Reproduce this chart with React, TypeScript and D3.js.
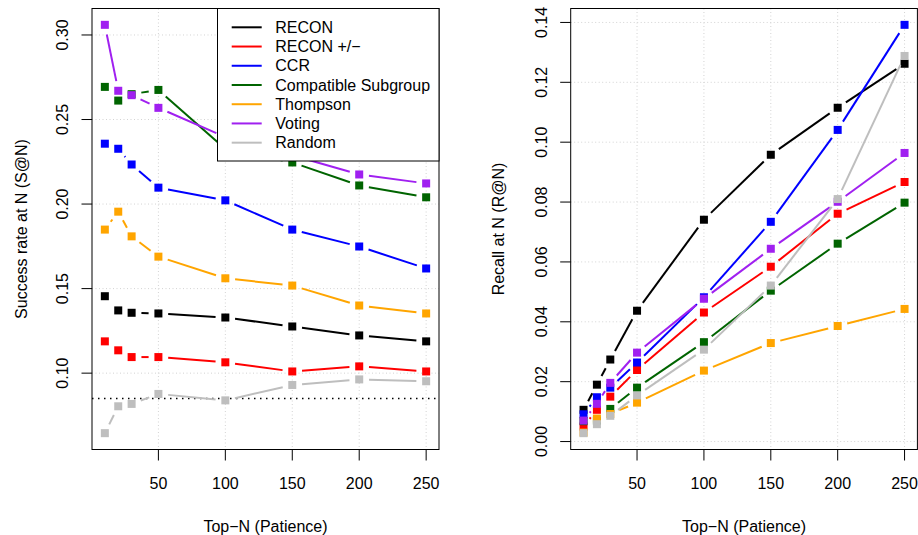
import React, { useEffect, useRef } from 'react';
import * as d3 from 'd3';

const topN = [10, 20, 30, 50, 100, 150, 200, 250];
const methods = ['RECON', 'RECON +/\u2212', 'CCR', 'Compatible Subgroup', 'Thompson', 'Voting', 'Random'];
const colors = ['#000000', '#FF0000', '#0000FF', '#006400', '#FFA500', '#A020F0', '#BEBEBE'];

// success rate at N (left panel)
const successRecon = [0.1455, 0.1371, 0.1357, 0.1353, 0.1329, 0.1276, 0.1223, 0.1188];
const successReconPM = [0.1188, 0.1135, 0.1095, 0.1095, 0.1064, 0.101, 0.104, 0.101];
const successCCR = [0.2357, 0.2327, 0.2234, 0.2097, 0.2022, 0.1849, 0.1749, 0.1619];
const successCompat = [0.2693, 0.2612, 0.265, 0.2675, 0.2325, 0.2246, 0.211, 0.204];
const successThompson = [0.1849, 0.1955, 0.1809, 0.1689, 0.1561, 0.1518, 0.14, 0.1353];
const successVoting = [0.306, 0.267, 0.2644, 0.2569, 0.2396, 0.2288, 0.2175, 0.2122];
const successRandom = [0.0645, 0.0804, 0.0818, 0.0877, 0.0839, 0.093, 0.0963, 0.0952];
const successBaseline = 0.085;

// recall at N (right panel)
const recallRecon = [0.0106, 0.019, 0.0274, 0.0437, 0.0741, 0.0958, 0.1115, 0.1262];
const recallReconPM = [0.005, 0.0106, 0.015, 0.0239, 0.0431, 0.0584, 0.0761, 0.0867];
const recallCCR = [0.0091, 0.0148, 0.018, 0.0264, 0.0482, 0.0734, 0.1041, 0.1392];
const recallCompat = [0.0068, 0.007, 0.0109, 0.018, 0.0332, 0.0504, 0.0661, 0.0798];
const recallThompson = [0.003, 0.0077, 0.0092, 0.013, 0.0237, 0.0329, 0.0386, 0.0443];
const recallVoting = [0.007, 0.0126, 0.0196, 0.0297, 0.0477, 0.0644, 0.0801, 0.0964];
const recallRandom = [0.0028, 0.0058, 0.0086, 0.0154, 0.0307, 0.0521, 0.081, 0.1288];

const xTicks = [50, 100, 150, 200, 250];
const successTicks = [0.1, 0.15, 0.2, 0.25, 0.3];
const recallTicks = [0, 0.02, 0.04, 0.06, 0.08, 0.1, 0.12, 0.14];

const FONT = '"Liberation Sans", Arial, Helvetica, sans-serif';

// R style axis range: data extent plus 4%
const padRange = (vals: number[]) => {
  const [lo, hi] = d3.extent(vals) as [number, number];
  const pad = (hi - lo) * 0.04;
  return [lo - pad, hi + pad];
};

const drawPanel = (svg: any, cfg: any) => {
  const { left, right, top, bottom, series, yTicks, yTitle, yTitleX, yLabelX, baseline } = cfg;
  const g = svg.append('g');

  const x = d3.scaleLinear().domain(padRange(topN)).range([left, right]);
  const y = d3.scaleLinear().domain(padRange(series.flat())).range([bottom, top]);

  // grid
  g.selectAll('.vgrid').data(xTicks).enter().append('line')
    .attr('x1', (d: number) => x(d)).attr('x2', (d: number) => x(d))
    .attr('y1', top).attr('y2', bottom)
    .attr('stroke', '#D3D3D3').attr('stroke-dasharray', '1,2.5');
  g.selectAll('.hgrid').data(yTicks).enter().append('line')
    .attr('x1', left).attr('x2', right)
    .attr('y1', (d: number) => y(d)).attr('y2', (d: number) => y(d))
    .attr('stroke', '#D3D3D3').attr('stroke-dasharray', '1,2.5');

  if (baseline !== undefined) {
    g.append('line')
      .attr('x1', left).attr('x2', right)
      .attr('y1', y(baseline)).attr('y2', y(baseline))
      .attr('stroke', '#000').attr('stroke-width', 1.5).attr('stroke-dasharray', '1.5,4.5');
  }

  // series: type "b" lines (gaps around the points) + filled squares
  const gap = 9.8;
  const size = 8;
  series.forEach((vals: number[], s: number) => {
    const pts = topN.map((n, i) => [x(n), y(vals[i])]);
    for (let i = 0; i < pts.length - 1; i++) {
      const [x0, y0] = pts[i];
      const [x1, y1] = pts[i + 1];
      const dist = Math.hypot(x1 - x0, y1 - y0);
      if (dist <= 2 * gap) continue;
      const ux = (x1 - x0) / dist;
      const uy = (y1 - y0) / dist;
      g.append('line')
        .attr('x1', x0 + ux * gap).attr('y1', y0 + uy * gap)
        .attr('x2', x1 - ux * gap).attr('y2', y1 - uy * gap)
        .attr('stroke', colors[s]).attr('stroke-width', 2);
    }
    g.selectAll(null).data(pts).enter().append('rect')
      .attr('x', (d: number[]) => d[0] - size / 2)
      .attr('y', (d: number[]) => d[1] - size / 2)
      .attr('width', size).attr('height', size)
      .attr('fill', colors[s]);
  });

  // box
  g.append('rect')
    .attr('x', left).attr('y', top)
    .attr('width', right - left).attr('height', bottom - top)
    .attr('fill', 'none').attr('stroke', '#000');

  // x axis
  g.selectAll('.xtick').data(xTicks).enter().append('line')
    .attr('x1', (d: number) => x(d)).attr('x2', (d: number) => x(d))
    .attr('y1', bottom).attr('y2', bottom + 11)
    .attr('stroke', '#000');
  g.selectAll('.xlab').data(xTicks).enter().append('text')
    .attr('x', (d: number) => x(d)).attr('y', 488.5)
    .attr('text-anchor', 'middle')
    .attr('font-family', FONT).attr('font-size', 16)
    .text((d: number) => d);
  g.append('text')
    .attr('x', (left + right) / 2).attr('y', 531.5)
    .attr('text-anchor', 'middle')
    .attr('font-family', FONT).attr('font-size', 16)
    .text('Top\u2212N (Patience)');

  // y axis
  const fmt = d3.format('.2f');
  g.selectAll('.ytick').data(yTicks).enter().append('line')
    .attr('x1', left - 10.5).attr('x2', left)
    .attr('y1', (d: number) => y(d)).attr('y2', (d: number) => y(d))
    .attr('stroke', '#000');
  g.selectAll('.ylab').data(yTicks).enter().append('text')
    .attr('transform', (d: number) => `translate(${yLabelX},${y(d)}) rotate(-90)`)
    .attr('dy', '0.35em')
    .attr('text-anchor', 'middle')
    .attr('font-family', FONT).attr('font-size', 16)
    .text((d: number) => fmt(d));
  g.append('text')
    .attr('transform', `translate(${yTitleX},${(top + bottom) / 2}) rotate(-90)`)
    .attr('dy', '0.35em')
    .attr('text-anchor', 'middle')
    .attr('font-family', FONT).attr('font-size', 16)
    .text(yTitle);

  return g;
};

const App = () => {
  const ref = useRef<SVGSVGElement>(null);

  useEffect(() => {
    const svg = d3.select(ref.current);
    svg.selectAll('*').remove();

    svg.append('rect').attr('width', 918).attr('height', 535).attr('fill', '#fff');

    const left = drawPanel(svg, {
      left: 92, right: 439, top: 8.5, bottom: 449.5,
      series: [successRecon, successReconPM, successCCR, successCompat, successThompson, successVoting, successRandom],
      yTicks: successTicks,
      yTitle: 'Success rate at N (S@N)',
      yTitleX: 21,
      yLabelX: 62,
      baseline: successBaseline,
    });

    drawPanel(svg, {
      left: 570.7, right: 917.4, top: 8.5, bottom: 449.5,
      series: [recallRecon, recallReconPM, recallCCR, recallCompat, recallThompson, recallVoting, recallRandom],
      yTicks: recallTicks,
      yTitle: 'Recall at N (R@N)',
      yTitleX: 498,
      yLabelX: 541,
    });

    // legend (left panel, top right)
    const legend = left.append('g');
    legend.append('rect')
      .attr('x', 217.5).attr('y', 8.5)
      .attr('width', 439 - 217.5).attr('height', 161 - 8.5)
      .attr('fill', '#fff').attr('stroke', '#000');
    methods.forEach((m, i) => {
      const yy = 27.3 + i * 19.23;
      legend.append('line')
        .attr('x1', 231.7).attr('x2', 261.7)
        .attr('y1', yy).attr('y2', yy)
        .attr('stroke', colors[i]).attr('stroke-width', 2);
      legend.append('text')
        .attr('x', 275.3).attr('y', yy).attr('dy', '0.35em')
        .attr('font-family', FONT).attr('font-size', 16)
        .text(m);
    });
  }, []);

  return (
    <svg
      ref={ref}
      width={918}
      height={535}
      style={{ position: 'absolute', left: 0, top: 0, display: 'block' }}
    />
  );
};

export default App;
